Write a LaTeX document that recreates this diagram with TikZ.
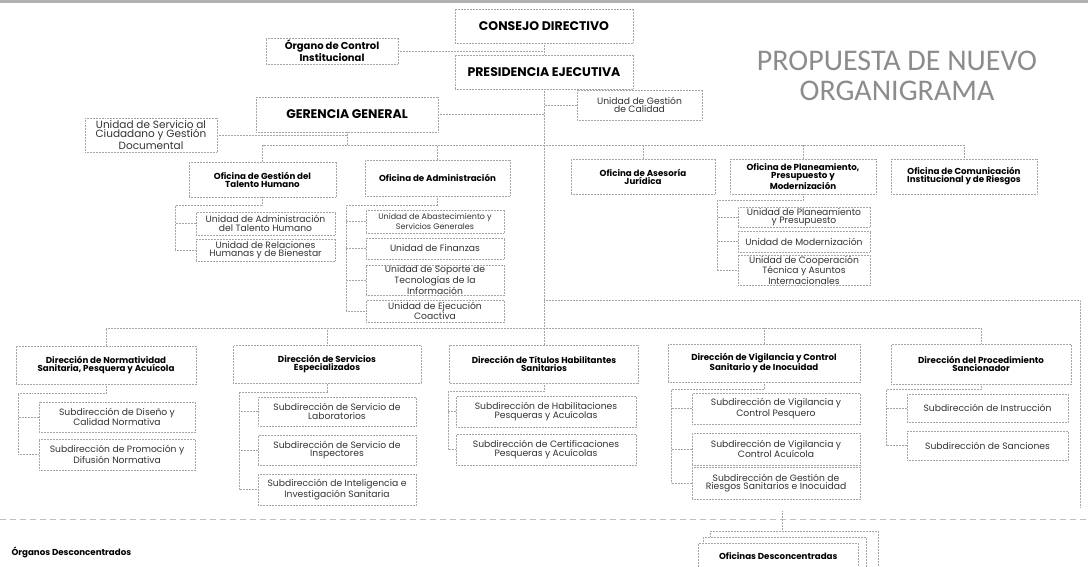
\documentclass[tikz,border=0pt]{standalone}
\usepackage{fontspec}
\setmainfont{Poppins}
\newfontfamily\titlefont{Carlito}
\begin{document}
\begin{tikzpicture}[x=1pt,y=-1pt,
  box/.style={draw=gray!70,densely dotted,line width=0.5pt,align=center,inner sep=1pt,fill=white},
  wh/.style 2 args={minimum width=#1pt,minimum height=#2pt},
  head/.style={box,font=\fontsize{12.5}{13}\selectfont\bfseries},
  ofi/.style={box,font=\fontsize{8.7}{8}\selectfont\bfseries},
  uni/.style={box,font=\fontsize{9.2}{8.5}\selectfont,text=black!80},
  link/.style={draw=gray!70,densely dotted,line width=0.5pt}]
\useasboundingbox (0,0) rectangle (1088,567);
\fill[gray!60] (0,0) rectangle (1088,3.5);

% alta direccion
\node[head,wh={178}{34}] (consejo) at (544,26) {CONSEJO DIRECTIVO};
\node[head,wh={178}{34}] (presid) at (544,72) {PRESIDENCIA EJECUTIVA};
\node[ofi,wh={132}{26},font=\fontsize{10}{9.5}\selectfont\bfseries] (organo) at (332,51) {Órgano de Control\\Institucional};
\node[uni,wh={125}{30}] (calidad) at (639.5,105) {Unidad de Gestión\\de Calidad};
\node[head,wh={182}{35}] (gerencia) at (347,114.5) {GERENCIA GENERAL};
\node[uni,wh={132}{34},font=\fontsize{10.5}{9.5}\selectfont] (servicio) at (151,135) {Unidad de Servicio al\\Ciudadano y Gestión\\Documental};

% oficinas
\node[ofi,wh={147}{35}] (talento) at (262.5,179.5) {Oficina de Gestión del\\Talento Humano};
\node[ofi,wh={145}{36}] (admin) at (437.5,178) {Oficina de Administración};
\node[ofi,wh={144}{35}] (asesoria) at (643,176.5) {Oficina de Asesoría\\Jurídica};
\node[ofi,wh={146}{35}] (planea) at (803,176.5) {Oficina de Planeamiento,\\Presupuesto y\\Modernización};
\node[ofi,wh={146}{35}] (comunic) at (964,176.5) {Oficina de Comunicación\\Institucional y de Riesgos};

\node[uni,wh={139}{23}] (uath) at (265.5,223.5) {Unidad de Administración\\del Talento Humano};
\node[uni,wh={139}{22}] (urh) at (265.5,250) {Unidad de Relaciones\\Humanas y de Bienestar};

\node[uni,wh={138}{23},font=\fontsize{8}{7.5}\selectfont] (uabast) at (435,221.5) {Unidad de Abastecimiento y\\Servicios Generales};
\node[uni,wh={138}{21}] (ufin) at (435,248.5) {Unidad de Finanzas};
\node[uni,wh={138}{28}] (usop) at (435,280) {Unidad de Soporte de\\Tecnologías de la\\Información};
\node[uni,wh={138}{22}] (ueje) at (435,311) {Unidad de Ejecución\\Coactiva};

\node[uni,wh={132}{20}] (uplan) at (804,217) {Unidad de Planeamiento\\y Presupuesto};
\node[uni,wh={132}{21}] (umod) at (804,241.5) {Unidad de Modernización};
\node[uni,wh={132}{30}] (ucoop) at (804,270) {Unidad de Cooperación\\Técnica y Asuntos\\Internacionales};

% direcciones
\node[ofi,wh={180}{38}] (dnorm) at (106,365) {Dirección de Normatividad\\Sanitaria, Pesquera y Acuícola};
\node[ofi,wh={188}{38}] (dserv) at (327,364.5) {Dirección de Servicios\\Especializados};
\node[ofi,wh={189}{38}] (dtit) at (544,364) {Dirección de Títulos Habilitantes\\Sanitarios};
\node[ofi,wh={192}{38}] (dvig) at (764,363) {Dirección de Vigilancia y Control\\Sanitario y de Inocuidad};
\node[ofi,wh={180}{40}] (dproc) at (981,364) {Dirección del Procedimiento\\Sancionador};

\node[uni,wh={156}{30}] (sdis) at (117,417) {Subdirección de Diseño y\\Calidad Normativa};
\node[uni,wh={156}{31}] (sprom) at (117,454.5) {Subdirección de Promoción y\\Difusión Normativa};
\node[uni,wh={158}{29}] (slab) at (337,411.5) {Subdirección de Servicio de\\Laboratorios};
\node[uni,wh={158}{30}] (sinsp) at (337,450) {Subdirección de Servicio de\\Inspectores};
\node[uni,wh={158}{31}] (sint) at (337,489.5) {Subdirección de Inteligencia e\\Investigación Sanitaria};
\node[uni,wh={180}{31}] (shab) at (546,411.5) {Subdirección de Habilitaciones\\Pesqueras y Acuícolas};
\node[uni,wh={180}{31}] (scert) at (546,449.5) {Subdirección de Certificaciones\\Pesqueras y Acuícolas};
\node[uni,wh={168}{31}] (svp) at (776,408.5) {Subdirección de Vigilancia y\\Control Pesquero};
\node[uni,wh={168}{32}] (sva) at (776,449) {Subdirección de Vigilancia y\\Control Acuícola};
\node[uni,wh={168}{32}] (sgr) at (776,483) {Subdirección de Gestión de\\Riesgos Sanitarios e Inocuidad};
\node[uni,wh={161}{28}] (sinst) at (987.5,408) {Subdirección de Instrucción};
\node[uni,wh={161}{29}] (ssanc) at (987.5,445.5) {Subdirección de Sanciones};

% conectores
\coordinate (busA) at (0,145);
\coordinate (busB) at (0,328);
\coordinate (busC) at (1080,300);
\draw[link] (consejo) -- (presid);
\draw[link] (organo.east) -- (organo.east -| consejo.south);
\draw[link] (presid.south) -- (dtit.north);
\draw[link] (calidad.west) -- (calidad.west -| presid.south);
\draw[link] (gerencia.east) -- (gerencia.east -| presid.south);
\draw[link] (gerencia.south) -- (gerencia.south |- busA);
\draw[link] (servicio.east) -- (servicio.east -| gerencia.south);
\draw[link] (talento.north) -- (talento.north |- busA) -- (comunic.north |- busA) -- (comunic.north);
\foreach \n in {admin,asesoria,planea}
  \draw[link] (\n.north) -- (\n.north |- busA);
\draw[link] (dnorm.north) -- (dnorm.north |- busB) -- (dproc.north |- busB) -- (dproc.north);
\foreach \n in {dserv,dvig}
  \draw[link] (\n.north) -- (\n.north |- busB);
\draw[link] (presid.south |- busC) -- (busC) -- (1080,508);

\draw[link] (talento.south) -- ++(0,8) -| ([xshift=-21pt]urh.west) -- (urh.west);
\draw[link] (uath.west) -- ++(-21,0);
\draw[link] (admin.south) -- ++(0,9) -| ([xshift=-20pt]ueje.west) -- (ueje.west);
\foreach \n in {uabast,ufin,usop}
  \draw[link] (\n.west) -- ++(-20,0);
\draw[link] (planea.south) -- ++(0,6) -| ([xshift=-21pt]ucoop.west) -- (ucoop.west);
\foreach \n in {uplan,umod}
  \draw[link] (\n.west) -- ++(-21,0);

\draw[link] (dnorm.south) -- ++(0,9) -| ([xshift=-21pt]sprom.west) -- (sprom.west);
\draw[link] (sdis.west) -- ++(-21,0);
\draw[link] (dserv.south) -- ++(0,8) -| ([xshift=-19pt]sint.west) -- (sint.west);
\foreach \n in {slab,sinsp}
  \draw[link] (\n.west) -- ++(-19,0);
\draw[link] (dtit.south) -- ++(0,8) -| ([xshift=-8pt]scert.west) -- (scert.west);
\draw[link] (shab.west) -- ++(-8,0);
\draw[link] (dvig.south) -- ++(0,7) -| ([xshift=-21pt]sgr.west) -- (sgr.west);
\foreach \n in {svp,sva}
  \draw[link] (\n.west) -- ++(-21,0);
\draw[link] (dproc.south) -- ++(0,5) -| ([xshift=-21pt]ssanc.west) -- (ssanc.west);
\draw[link] (sinst.west) -- ++(-21,0);

% organos desconcentrados
\draw[gray!50,dash pattern=on 6pt off 4pt] (0,519) -- (1088,519);
\node[anchor=west,font=\fontsize{8.7}{8}\selectfont\bfseries] (odes) at (8,552) {Órganos Desconcentrados};
\node[box,wh={168}{36},anchor=north west] (ofd3) at (710,531) {};
\node[box,wh={163}{30},anchor=north west] (ofd2) at (703,537) {};
\node[ofi,wh={160}{26},anchor=north west] (ofd) at (698,543) {Oficinas Desconcentradas};
\coordinate (odtop) at (782,511);
\draw[link] (odtop) -- (odtop |- ofd3.north);

\node[font=\titlefont\fontsize{30}{30}\selectfont,text=gray!90,align=center] (titulo) at (897,76) {PROPUESTA DE NUEVO\\ORGANIGRAMA};
\end{tikzpicture}
\end{document}
